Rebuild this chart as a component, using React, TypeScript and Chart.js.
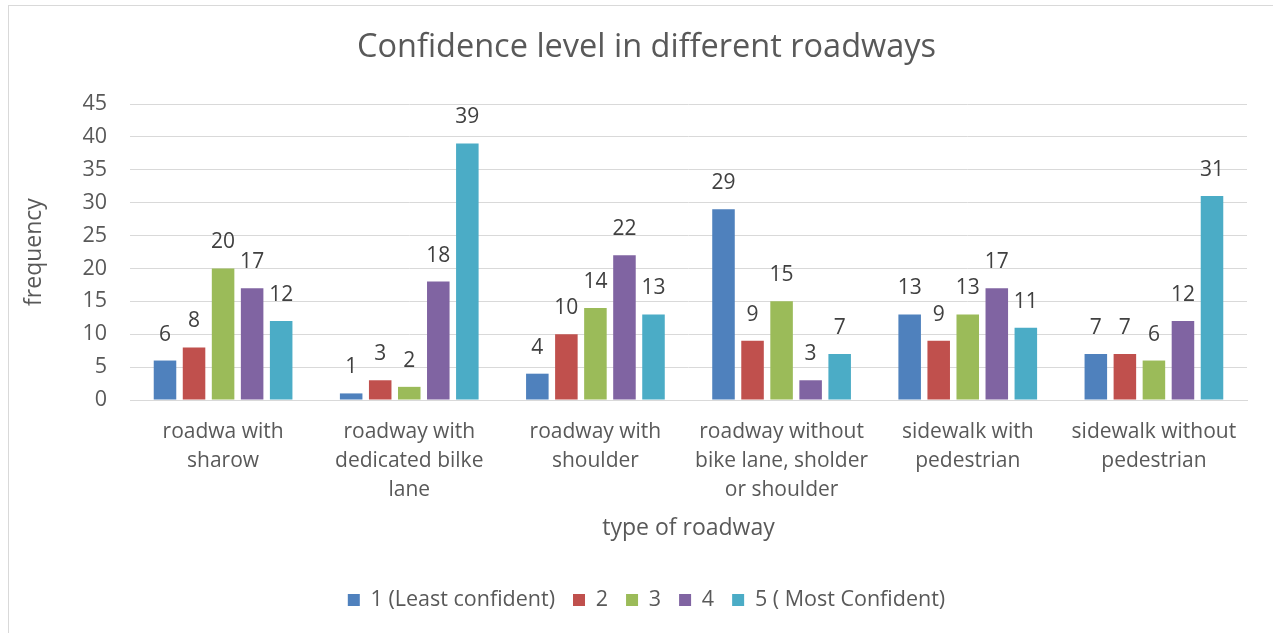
import React, { useEffect, useRef } from "react";
import { Chart, registerables } from "chart.js";

Chart.register(...registerables);

const categories: string[][] = [
  ["roadwa with", "sharow"],
  ["roadway with", "dedicated bilke", "lane"],
  ["roadway with", "shoulder"],
  ["roadway without", "bike lane, sholder", "or shoulder"],
  ["sidewalk with", "pedestrian"],
  ["sidewalk without", "pedestrian"],
];

const seriesNames = ["1 (Least confident)", "2", "3", "4", "5 ( Most Confident)"];
const level1 = [6, 1, 4, 29, 13, 7];
const level2 = [8, 3, 10, 9, 9, 7];
const level3 = [20, 2, 14, 15, 13, 6];
const level4 = [17, 18, 22, 3, 17, 12];
const level5 = [12, 39, 13, 7, 11, 31];
const seriesColors = ["#4F81BD", "#C0504D", "#9BBB59", "#8064A2", "#4BACC6"];

const FONT = "'Open Sans', 'Liberation Sans', sans-serif";
const TEXT = "#595959";

const dataLabels = {
  id: "dataLabels",
  afterDatasetsDraw(chart: any) {
    const ctx = chart.ctx;
    ctx.save();
    ctx.font = `21px ${FONT}`;
    ctx.fillStyle = "#404040";
    ctx.textAlign = "center";
    ctx.textBaseline = "middle";
    chart.data.datasets.forEach((ds: any, i: number) => {
      const meta = chart.getDatasetMeta(i);
      meta.data.forEach((bar: any, j: number) => {
        ctx.fillText(String(ds.data[j]), bar.x, bar.y - 26);
      });
    });
    ctx.restore();
  },
};

export default function App() {
  const ref = useRef<HTMLCanvasElement | null>(null);
  useEffect(() => {
    if (!ref.current) return;
    const all = [level1, level2, level3, level4, level5];
    const chart = new Chart(ref.current, {
      type: "bar",
      data: {
        labels: categories,
        datasets: all.map((d, i) => ({
          label: seriesNames[i],
          data: d,
          backgroundColor: seriesColors[i],
          borderWidth: 0,
          categoryPercentage: 0.78,
          barPercentage: 0.776,
        })),
      },
      options: {
        animation: false,
        responsive: true,
        maintainAspectRatio: false,
        layout: { padding: { left: 0, right: 0, top: 0, bottom: 12.25 } },
        plugins: {
          title: {
            display: true,
            text: "Confidence level in different roadways",
            color: TEXT,
            font: { family: FONT, size: 32.5, weight: "normal", lineHeight: 1.2 },
            padding: { top: 22.5, bottom: 36.5 },
          },
          legend: {
            position: "bottom",
            labels: {
              color: TEXT,
              font: { family: FONT, size: 21.5 },
              boxWidth: 12,
              boxHeight: 12,
              padding: 18,
            },
          },
          tooltip: { enabled: false },
        },
        scales: {
          x: {
            grid: { display: false, drawTicks: false },
            border: { display: true, color: "#d9d9d9" },
            ticks: {
              color: TEXT,
              font: { family: FONT, size: 21, lineHeight: 1.38 },
              padding: 17.5,
              maxRotation: 0,
              autoSkip: false,
            },
            title: {
              display: true,
              text: "type of roadway",
              color: TEXT,
              font: { family: FONT, size: 23, lineHeight: 1.2 },
              padding: { top: 0, bottom: 29 },
            },
            afterFit(scale: any) {
              scale.height = 171.25;
            },
          },
          y: {
            min: 0,
            max: 45,
            grid: { color: "#d9d9d9", drawTicks: false },
            border: { display: false },
            ticks: {
              stepSize: 5,
              color: TEXT,
              font: { family: FONT, size: 21.5 },
              padding: 23,
            },
            title: {
              display: true,
              text: "frequency",
              color: TEXT,
              font: { family: FONT, size: 23, lineHeight: 1.2 },
              padding: { top: 12, bottom: 0 },
            },
            afterFit(scale: any) {
              scale.width = 121;
            },
          },
          spacer: {
            type: "linear",
            position: "right",
            grid: { display: false, drawTicks: false },
            border: { display: false },
            ticks: { display: false },
            afterFit(scale: any) {
              scale.width = 37;
            },
          },
        },
      },
      plugins: [dataLabels],
    });
    return () => chart.destroy();
  }, []);

  return (
    <div
      style={{
        position: "absolute",
        left: 8,
        top: 5,
        width: 1265,
        height: 628,
        boxSizing: "border-box",
        borderLeft: "1px solid #d9d9d9",
        borderTop: "1px solid #d9d9d9",
        background: "#fff",
        overflow: "hidden",
      }}
    >
      <div style={{ position: "relative", width: 1275, height: 627 }}>
        <canvas ref={ref} />
      </div>
    </div>
  );
}
